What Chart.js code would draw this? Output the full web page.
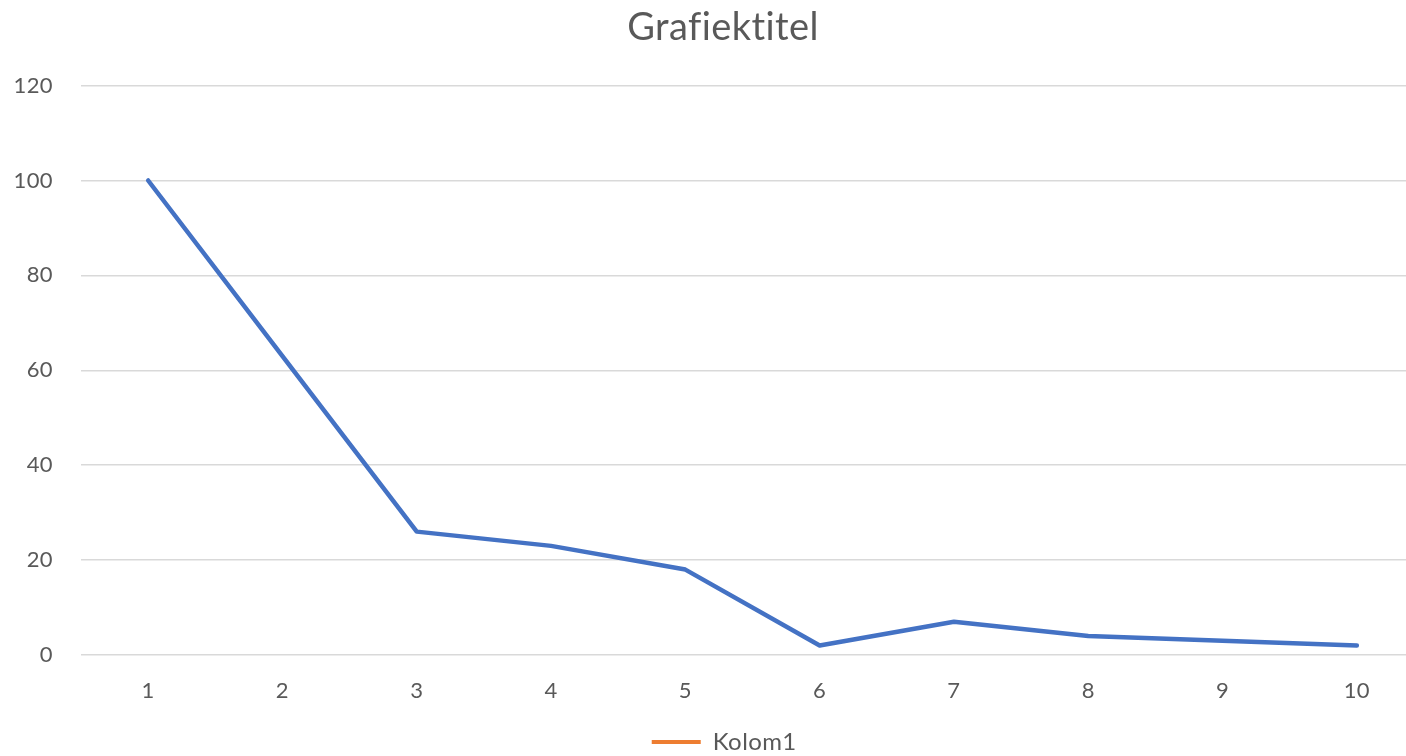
<!DOCTYPE html>
<html>
<head>
<meta charset="utf-8">
<script src="https://cdn.jsdelivr.net/npm/chart.js@4/dist/chart.umd.min.js"></script>
<style>
  html, body { margin: 0; padding: 0; background: #fff; overflow: hidden; }
  #wrap { width: 1448px; height: 756px; }
</style>
</head>
<body>
<div id="wrap"><canvas id="grafiek" width="1448" height="756"></canvas></div>
<script>
const labels = ['1', '2', '3', '4', '5', '6', '7', '8', '9', '10'];
const reeks = [100, 63, 26, 23, 18, 2, 7, 4, 3, 2];
const kolom1 = [];
const yTicks = [0, 20, 40, 60, 80, 100, 120];

const fontFam = 'Lato, "Open Sans", sans-serif';
const grijs = '#595959';

const tekstHulp = {
    id: 'tekstHulp',
    // widen the y scale box to the canvas edge so its labels are not clipped
    afterLayout: chart => { chart.scales.y.left = 0; },
    // a little letter spacing keeps Lato from merging "fi" / "ti" into ligatures
    beforeDraw: chart => { chart.ctx.letterSpacing = '0.4px'; }
};

new Chart(document.getElementById('grafiek'), {
    type: 'line',
    data: {
        labels: labels,
        datasets: [
            { label: 'Reeks1', data: reeks, borderColor: '#4472C4', backgroundColor: '#4472C4', borderWidth: 4.5, pointRadius: 0, tension: 0, borderCapStyle: 'round', borderJoinStyle: 'round' },
            { label: 'Kolom1', data: kolom1, borderColor: '#ED7D31', backgroundColor: '#ED7D31', borderWidth: 0, pointRadius: 0 }
        ]
    },
    plugins: [tekstHulp],
    options: {
        responsive: false,
        animation: false,
        layout: { padding: { left: 22, right: 24, top: 0, bottom: -8 } },
        plugins: {
            title: {
                display: true, text: 'Grafiektitel', color: grijs,
                font: { family: fontFam, size: 38, weight: 'normal' },
                padding: { top: 5, bottom: 35 }
            },
            legend: {
                position: 'bottom',
                labels: {
                    filter: item => item.text === 'Kolom1',
                    color: grijs, font: { family: fontFam, size: 24 },
                    boxWidth: 49, boxHeight: 4, padding: 0
                }
            },
            tooltip: { enabled: false }
        },
        scales: {
            x: {
                offset: true,
                grid: { display: false },
                border: { display: false },
                ticks: { color: grijs, font: { family: fontFam, size: 22 }, padding: 15 },
                afterFit: s => { s.height = 75; }
            },
            y: {
                min: 0, max: 120,
                afterBuildTicks: s => { s.ticks = yTicks.map(v => ({ value: v })); },
                grid: { color: '#d9d9d9', lineWidth: 1.5, drawTicks: false },
                border: { display: false },
                ticks: { color: grijs, font: { family: fontFam, size: 22 }, padding: 28 },
                afterFit: s => { s.width = 59; }
            }
        }
    }
});
</script>
</body>
</html>
